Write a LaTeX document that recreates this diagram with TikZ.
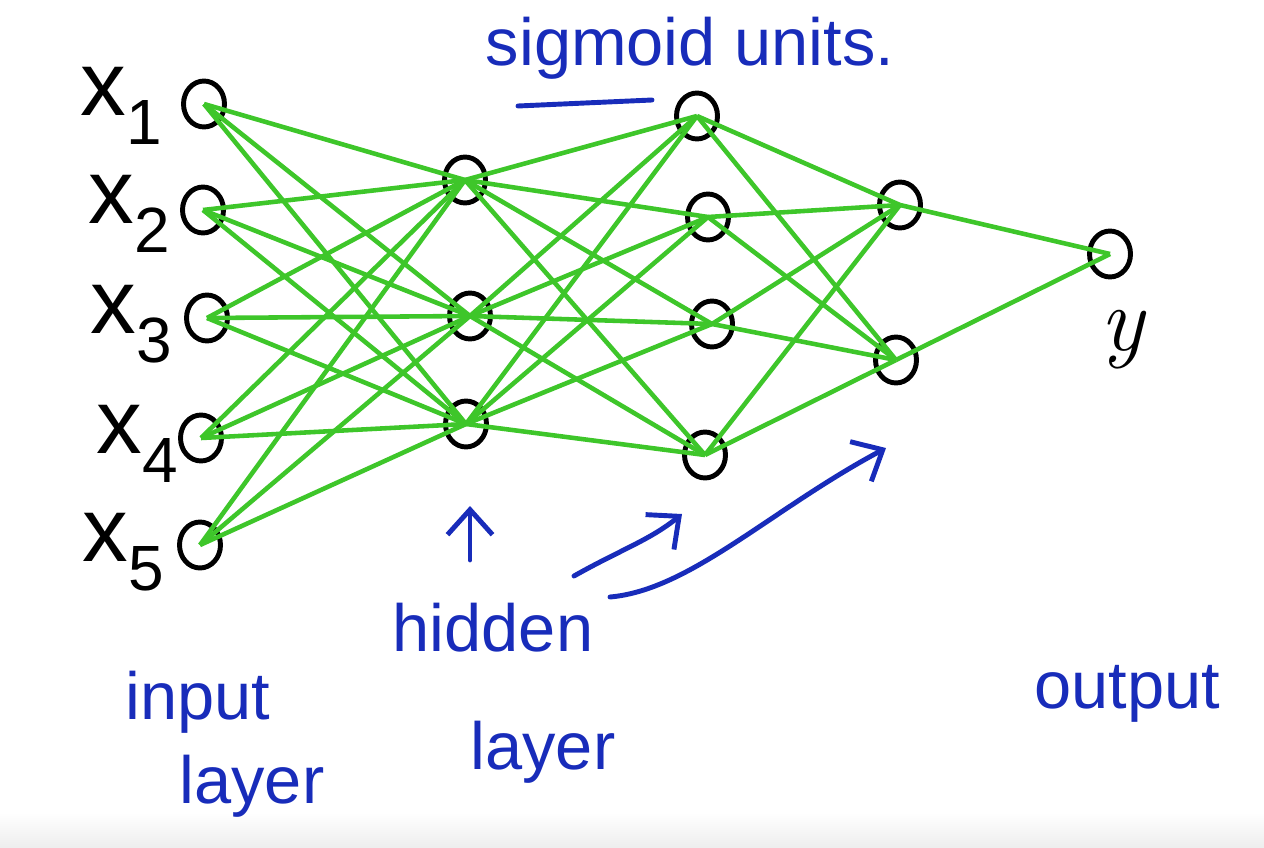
\documentclass[tikz,border=0pt]{standalone}
\usepackage{fontspec}
\setsansfont{Liberation Sans}
\usepackage{tikz}
\usetikzlibrary{
  positioning,
  arrows.meta, shapes.geometric
}
\definecolor{wiregreen}{RGB}{62,198,42}
\definecolor{ink}{RGB}{24,44,186}
\newcommand{\xin}[1]{x\textsubscript{#1}}

\begin{document}
\begin{tikzpicture}[x=0.02cm,y=-0.02cm,
    neuron/.style={ellipse,draw,line width=2.8pt,minimum width=0.82cm,minimum height=0.92cm,inner sep=0pt},
    wire/.style={draw=wiregreen,line width=2.6pt},
    note/.style={text=ink,font=\sffamily\fontsize{38}{46}\selectfont},
    var/.style={font=\sffamily\fontsize{52}{58}\selectfont},
    pointer/.style={draw=ink,line width=2.8pt,line cap=round,-{Straight Barb[length=5mm,width=9mm]}}]
      \useasboundingbox (0,0) rectangle (1264,848);
      \shade[top color=white,bottom color=black!7] (0,812) rectangle (1264,848);
      % input layer
      \node at (204,104) [neuron] (i1) {};
      \node at (203,210) [neuron] (i2) {};
      \node at (207,318) [neuron] (i3) {};
      \node at (201,438) [neuron] (i4) {};
      \node at (200,545) [neuron] (i5) {};
      \node at (122,106) [var] (x1) {\xin{1}};
      \node at (130,214) [var] (x2) {\xin{2}};
      \node at (132,324) [var] (x3) {\xin{3}};
      \node at (138,444) [var] (x4) {\xin{4}};
      \node at (124,552) [var] (x5) {\xin{5}};
      % hidden layers
      \node at (465,180) [neuron] (a1) {};
      \node at (470,316) [neuron] (a2) {};
      \node at (466,424) [neuron] (a3) {};
      \node at (697,116) [neuron] (b1) {};
      \node at (708,217) [neuron] (b2) {};
      \node at (712,324) [neuron] (b3) {};
      \node at (705,455) [neuron] (b4) {};
      \node at (900,205) [neuron] (c1) {};
      \node at (896,360) [neuron] (c2) {};
      % output
      \node at (1110,254) [neuron] (o) {};
      \node at (1122,340) [var] (y) {\rmfamily\itshape y};
      % connections
      \foreach \a in {1,...,5}
        \foreach \b in {1,2,3}
          \draw[wire] (i\a.center) -- (a\b.center);
      \foreach \a in {1,2,3}
        \foreach \b in {1,...,4}
          \draw[wire] (a\a.center) -- (b\b.center);
      \foreach \a in {1,...,4}
        \foreach \b in {1,2}
          \draw[wire] (b\a.center) -- (c\b.center);
      \foreach \a in {1,2}
        \draw[wire] (c\a.center) -- (o.center);
      % labels
      \node at (690,48) [note] (sig) {sigmoid units.};
      \draw[ink,line width=2.8pt,line cap=round] (518,106) -- (652,100);
      \node at (198,702) [note] (inp) {input};
      \node at (252,786) [note] (inl) {layer};
      \node at (493,628) [note] (hid) {hidden};
      \node at (543,752) [note] (hil) {layer};
      \node at (1127,694) [note] (out) {output};
      % pointers
      \coordinate (p1s) at (470,560);
      \coordinate (p1e) at (470,506);
      \coordinate (p2s) at (574,576);
      \coordinate (p2e) at (682,514);
      \coordinate (p3s) at (610,597);
      \coordinate (p3e) at (886,448);
      \draw[pointer] (p1s) -- (p1e);
      \draw[pointer] (p2s) .. controls (620,550) and (650,540) .. (p2e);
      \draw[pointer] (p3s) .. controls (690,590) and (770,510) .. (p3e);
  \end{tikzpicture}
\end{document}
